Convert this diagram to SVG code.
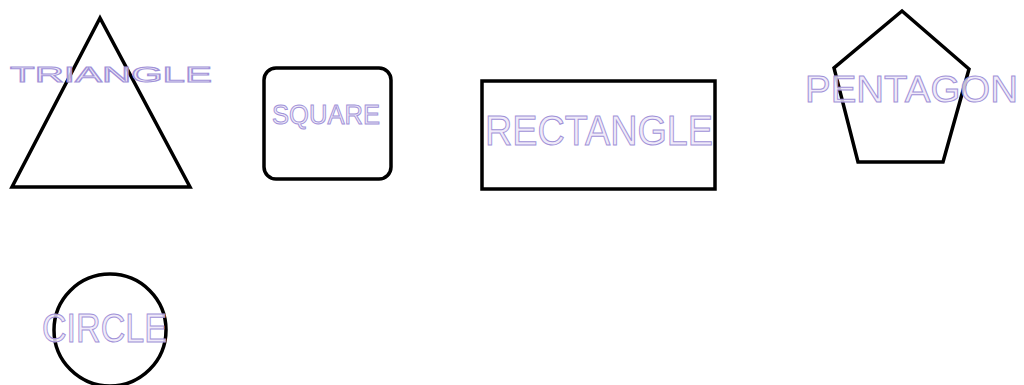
<svg xmlns="http://www.w3.org/2000/svg" width="1024" height="385" viewBox="0 0 1024 385">
  <style>
    .shape { fill: none; stroke: #000; stroke-width: 3.5; stroke-linejoin: miter; }
    .label { font-family: "Liberation Sans", Arial, sans-serif; fill: #eee8f8; fill-opacity: 0.85; stroke: #a192d8; stroke-width: 1; }
  </style>
  <rect width="1024" height="385" fill="#fff"/>

  <g id="triangle">
    <polygon class="shape" points="100,18 12,187 190,187"/>
    <text class="label" x="10" y="82" font-size="22.5" textLength="202" lengthAdjust="spacingAndGlyphs">TRIANGLE</text>
  </g>

  <g id="square">
    <rect class="shape" x="264" y="68" width="127" height="111" rx="12" ry="12" stroke-width="3"/>
    <text class="label" x="272" y="124" font-size="28" textLength="108" lengthAdjust="spacingAndGlyphs">SQUARE</text>
  </g>

  <g id="rectangle">
    <rect class="shape" x="482" y="81" width="233" height="108" stroke-width="4"/>
    <text class="label" x="485" y="145" font-size="42" textLength="228" lengthAdjust="spacingAndGlyphs">RECTANGLE</text>
  </g>

  <g id="pentagon">
    <polygon class="shape" points="902,11 834,68 858,162 943,162 969,69"/>
    <text class="label" x="805" y="102" font-size="37.5" textLength="213" lengthAdjust="spacingAndGlyphs">PENTAGON</text>
  </g>

  <g id="circle">
    <circle class="shape" cx="110" cy="330" r="56"/>
    <text class="label" x="42" y="342" font-size="40" textLength="125" lengthAdjust="spacingAndGlyphs">CIRCLE</text>
  </g>

  <g id="connectors"/>
</svg>
